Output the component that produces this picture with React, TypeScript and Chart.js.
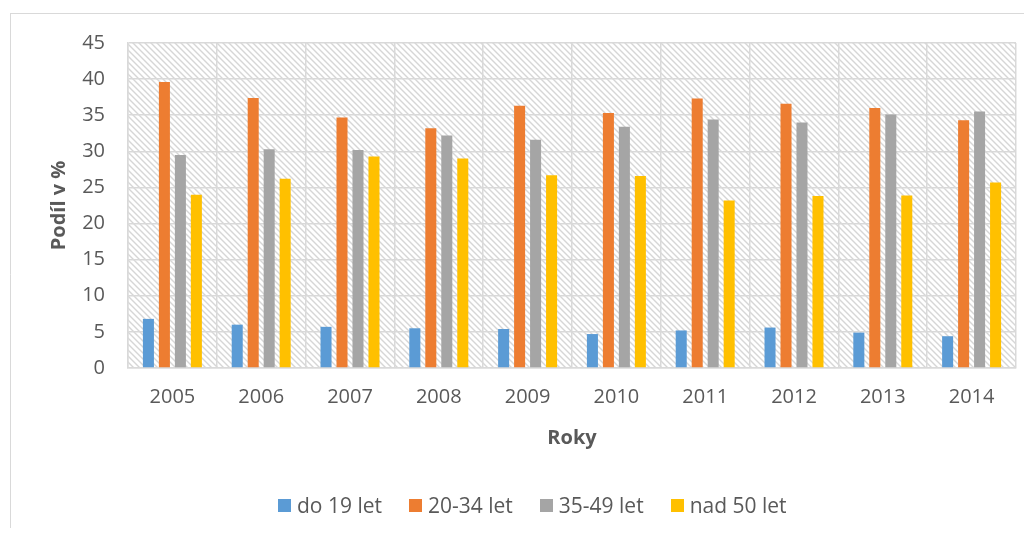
import React, { useEffect, useRef } from "react";
import { Chart, registerables } from "chart.js";

Chart.register(...registerables);

const years = ["2005", "2006", "2007", "2008", "2009", "2010", "2011", "2012", "2013", "2014"];
const seriesLabels = ["do 19 let", "20-34 let", "35-49 let", "nad 50 let"];
const do19 = [6.8, 6.0, 5.7, 5.5, 5.4, 4.7, 5.2, 5.6, 4.9, 4.4];
const age20to34 = [39.6, 37.4, 34.7, 33.2, 36.3, 35.3, 37.3, 36.6, 36.0, 34.3];
const age35to49 = [29.5, 30.3, 30.2, 32.2, 31.6, 33.4, 34.4, 34.0, 35.1, 35.5];
const nad50 = [24.0, 26.2, 29.3, 29.0, 26.7, 26.6, 23.2, 23.8, 23.9, 25.7];
const colors = ["#5b9bd5", "#ed7d31", "#a5a5a5", "#ffc000"];

const FONT = "'Open Sans', sans-serif";
const TEXT = "#595959";
const GRID = "#d9d9d9";

function makePattern(ctx: CanvasRenderingContext2D) {
  const s = 6;
  const c = document.createElement("canvas");
  c.width = s;
  c.height = s;
  const p = c.getContext("2d")!;
  p.fillStyle = "#ffffff";
  p.fillRect(0, 0, s, s);
  p.strokeStyle = "#d6d6d6";
  p.lineWidth = 1.4;
  p.beginPath();
  p.moveTo(-1, -1);
  p.lineTo(s + 1, s + 1);
  p.moveTo(-1, s - 1);
  p.lineTo(1, s + 1);
  p.moveTo(s - 1, -1);
  p.lineTo(s + 1, 1);
  p.stroke();
  return ctx.createPattern(c, "repeat");
}

export default function App() {
  const ref = useRef<HTMLCanvasElement | null>(null);

  useEffect(() => {
    const canvas = ref.current!;
    const ctx = canvas.getContext("2d")!;
    const pattern = makePattern(ctx);

    const bgPlugin = {
      id: "bgPlugin",
      beforeDraw(chart: any) {
        const { ctx, chartArea } = chart;
        ctx.save();
        ctx.fillStyle = "#ffffff";
        ctx.fillRect(0, 0, chart.width, chart.height);
        ctx.strokeStyle = GRID;
        ctx.lineWidth = 1;
        ctx.beginPath();
        ctx.moveTo(2.5, 5);
        ctx.lineTo(2.5, chart.height);
        ctx.moveTo(2, 5.5);
        ctx.lineTo(chart.width, 5.5);
        ctx.stroke();
        if (pattern) {
          ctx.fillStyle = pattern;
          ctx.fillRect(
            chartArea.left,
            chartArea.top,
            chartArea.right - chartArea.left,
            chartArea.bottom - chartArea.top
          );
        }
        ctx.restore();
      },
    };

    const chart = new Chart(canvas, {
      type: "bar",
      data: {
        labels: years,
        datasets: [do19, age20to34, age35to49, nad50].map((d, i) => ({
          label: seriesLabels[i],
          data: d,
          backgroundColor: colors[i],
          borderWidth: 0,
          categoryPercentage: 0.72,
          barPercentage: 0.69,
        })),
      },
      options: {
        responsive: false,
        animation: false,
        layout: { padding: { left: 0, right: 16, top: 35, bottom: 78 } },
        plugins: {
          legend: { display: false },
          tooltip: { enabled: false },
        },
        scales: {
          x: {
            grid: { color: GRID, lineWidth: 1.5, drawTicks: false, offset: true },
            border: { color: GRID, width: 1.5 },
            ticks: { color: TEXT, font: { family: FONT, size: 20 }, padding: 17, maxRotation: 0 },
            title: {
              display: true,
              text: "Roky",
              color: TEXT,
              font: { family: FONT, size: 20, weight: "bold" },
              padding: { top: 0, bottom: 8 },
            },
            afterFit(scale: any) {
              scale.height = 90;
            },
          },
          y: {
            min: 0,
            max: 45,
            grid: { color: GRID, lineWidth: 1.5, drawTicks: false },
            border: { color: GRID, width: 1.5 },
            ticks: { stepSize: 5, color: TEXT, font: { family: FONT, size: 20 }, padding: 23 },
            title: {
              display: true,
              text: "Podíl v %",
              color: TEXT,
              font: { family: FONT, size: 20, weight: "bold" },
              padding: { top: 39, bottom: 0 },
            },
            afterFit(scale: any) {
              scale.width = 120;
            },
          },
        },
      },
      plugins: [bgPlugin],
    } as any);

    return () => chart.destroy();
  }, []);

  return (
    <div style={{ position: "relative", width: 1024, height: 520 }}>
      <canvas ref={ref} width={1024} height={528} style={{ display: "block" }} />
      <div
        style={{
          position: "absolute",
          left: 270,
          top: 485,
          height: 24,
          display: "flex",
          alignItems: "center",
          fontFamily: FONT,
          fontSize: 21,
          color: TEXT,
          whiteSpace: "nowrap",
        }}
      >
        {seriesLabels.map((l, i) => (
          <div key={l} style={{ display: "flex", alignItems: "center", marginRight: 27 }}>
            <span
              style={{ display: "inline-block", width: 13, height: 13, background: colors[i], marginRight: 6 }}
            />
            <span>{l}</span>
          </div>
        ))}
      </div>
    </div>
  );
}
